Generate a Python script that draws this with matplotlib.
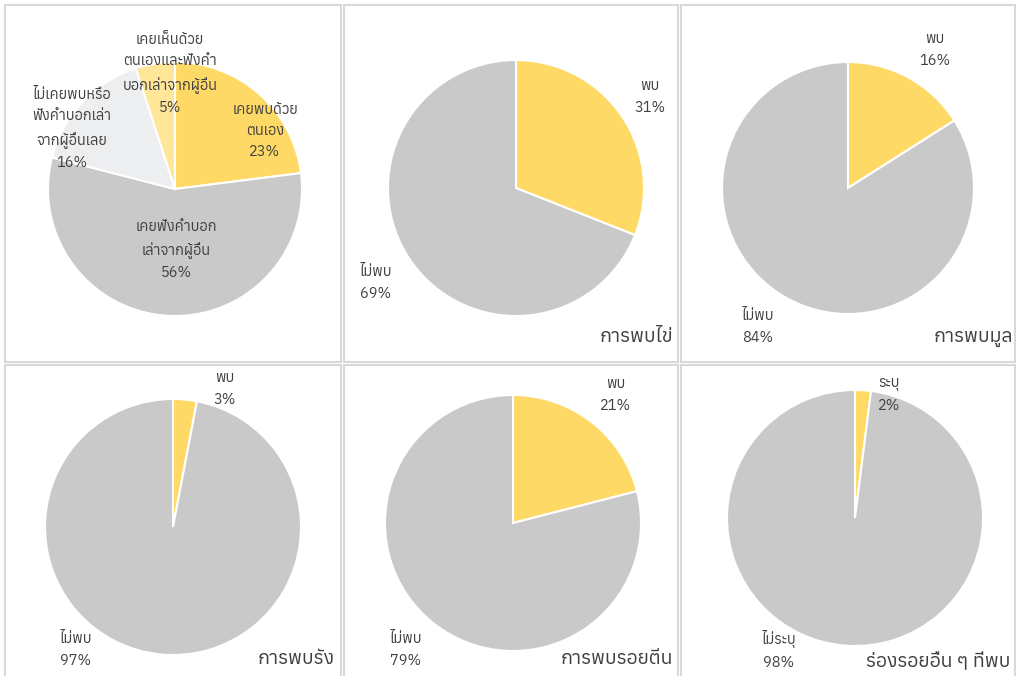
import matplotlib
matplotlib.use('Agg')
import matplotlib.pyplot as plt
from matplotlib import font_manager
from matplotlib.ft2font import FT2Font
from matplotlib.patches import Rectangle

# หาฟอนต์ที่มีอักษรไทย
def find_thai_font():
    names = []
    for f in font_manager.fontManager.ttflist:
        try:
            if FT2Font(f.fname).get_char_index(ord('ก')):
                names.append(f.name)
        except Exception:
            pass
    return sorted(set(names))

thai_fonts = find_thai_font()
families = (thai_fonts[:1] if thai_fonts else []) + ['DejaVu Sans']
plt.rcParams['font.family'] = families

# ข้อมูล
cat1 = ['เคยพบด้วย\nตนเอง', 'เคยฟังคำบอก\nเล่าจากผู้อื่น',
        'ไม่เคยพบหรือ\nฟังคำบอกเล่า\nจากผู้อื่นเลย', 'เคยเห็นด้วย\nตนเองและฟังคำ\nบอกเล่าจากผู้อื่น']
val1 = [23, 56, 16, 5]

titles = ['การพบไข่', 'การพบมูล', 'การพบรัง', 'การพบรอยตีน', 'ร่องรอยอื่น ๆ ที่พบ']
yes_labels = ['พบ', 'พบ', 'พบ', 'พบ', 'ระบุ']
no_labels = ['ไม่พบ', 'ไม่พบ', 'ไม่พบ', 'ไม่พบ', 'ไม่ระบุ']
yes_vals = [31, 16, 3, 21, 2]
no_vals = [69, 84, 97, 79, 98]

colors1 = ['#FFD966', '#C9C9C9', '#EDEEF0', '#FFE699']
colors2 = ['#FFD966', '#C9C9C9']
border = '#D9D9D9'
txt = '#404040'

W, H = 1018, 676
fig = plt.figure(figsize=(W / 100, H / 100), dpi=100)

# กรอบของแต่ละกราฟ (พิกเซล: x0, y0, x1, y1)
panels = [(5, 5, 341, 362), (344, 5, 678, 362), (681, 5, 1015, 362),
          (5, 365, 341, 680), (344, 365, 678, 680), (681, 365, 1015, 680)]
for x0, y0, x1, y1 in panels:
    fig.patches.append(Rectangle((x0 / W, 1 - y1 / H), (x1 - x0) / W, (y1 - y0) / H,
                                 transform=fig.transFigure, fill=False,
                                 edgecolor=border, linewidth=1.5))

# ตำแหน่งวงกลม (cx, cy, r) เป็นพิกเซล
pies = [(175, 189, 127), (516, 188, 128), (848, 188, 126),
        (173, 527, 128), (513, 523, 128), (855, 518, 128)]


def pie_ax(cx, cy, r):
    ax = fig.add_axes([(cx - r) / W, 1 - (cy + r) / H, 2 * r / W, 2 * r / H])
    return ax


def finish(ax):
    ax.set_xlim(-1, 1)
    ax.set_ylim(-1, 1)
    ax.axis('off')


def ftext(x, y, s, **kw):
    fig.text(x / W, 1 - y / H, s, ha='center', va='center', color=txt,
             fontsize=10.5, linespacing=1.65, **kw)


# กราฟแรก
ax = pie_ax(*pies[0])
ax.pie(val1, colors=colors1, startangle=90, counterclock=False, radius=1,
       wedgeprops={'edgecolor': 'white', 'linewidth': 1.5})
finish(ax)
ftext(265, 131, f'{cat1[0]}\n{val1[0]}%')
ftext(176, 250, f'{cat1[1]}\n{val1[1]}%')
ftext(72, 129, f'{cat1[2]}\n{val1[2]}%')
ftext(170, 74, f'{cat1[3]}\n{val1[3]}%')

# ตำแหน่งป้ายกำกับ
yes_pos = [(650, 97), (935, 50), (225, 389), (616, 395), (889, 395)]
no_pos = [(376, 283), (758, 327), (76, 650), (406, 650), (779, 650)]
title_pos = [(673, 337), (1013, 338), (335, 659), (673, 659), (1010, 662)]

for i in range(5):
    ax = pie_ax(*pies[i + 1])
    ax.pie([yes_vals[i], no_vals[i]], colors=colors2, startangle=90,
           counterclock=False, radius=1,
           wedgeprops={'edgecolor': 'white', 'linewidth': 1.5})
    finish(ax)
    ftext(*yes_pos[i], f'{yes_labels[i]}\n{yes_vals[i]}%')
    ftext(*no_pos[i], f'{no_labels[i]}\n{no_vals[i]}%')
    x, y = title_pos[i]
    fig.text(x / W, 1 - y / H, titles[i], ha='right', va='center',
             color=txt, fontsize=14)

fig.savefig('out.png', dpi=100, facecolor='white')
